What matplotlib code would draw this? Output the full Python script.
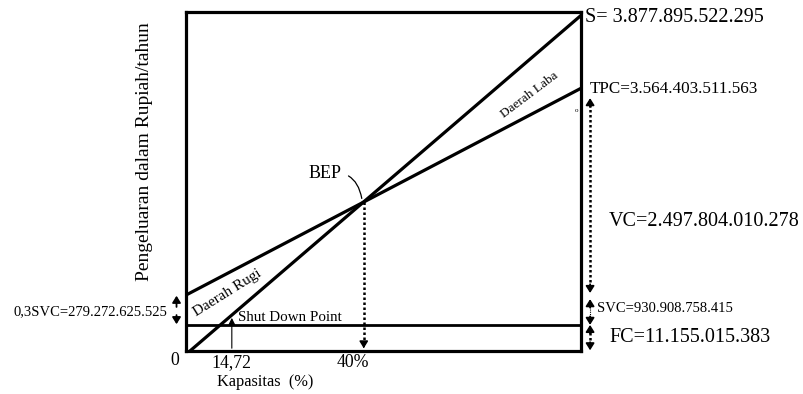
import matplotlib
matplotlib.use("Agg")
import matplotlib.pyplot as plt

plt.rcParams['font.family'] = ['Liberation Serif', 'DejaVu Serif']

# schematic values (capacity in %, cost axis in relative units 0-100)
capacity = [0, 100]
sales = [-1.0, 99.0]          # S line
tpc = [16.5, 77.5]            # total production cost line
fc_level = 7.7                # fixed cost level
bep_x = 45.0
bep_y = 44.0
sdp_x = 11.6                  # shut down point
sdp_y = 10.6

s_label = "S= 3.877.895.522.295"
tpc_label = "TPC=3.564.403.511.563"
vc_label = "VC=2.497.804.010.278"
svc_label = "SVC=930.908.758.415"
fc_label = "FC=11.155.015.383"
svc03_label = "0,3SVC=279.272.625.525"
x_ticks = [(0, "0"), (11.6, "14,72"), (42.3, "40%")]

fig = plt.figure(figsize=(8.04, 3.94), dpi=100)
ax = fig.add_axes([186 / 804, 43 / 394, 395 / 804, 339 / 394])
ax.set_xlim(0, 100)
ax.set_ylim(0, 100)
ax.set_xticks([])
ax.set_yticks([])
for sp in ax.spines.values():
    sp.set_linewidth(2.3)
    sp.set_color("black")

# main lines
ax.plot(capacity, sales, color="black", lw=2.3, solid_capstyle="butt")
ax.plot(capacity, tpc, color="black", lw=2.3, solid_capstyle="butt")
ax.plot(capacity, [fc_level, fc_level], color="black", lw=2.0)

# BEP dotted drop line
ax.plot([bep_x, bep_x], [bep_y, 2.0], color="black", lw=1.8, ls=(0, (1, 1)))
ax.annotate("", xy=(bep_x, 0), xytext=(bep_x, 2.5),
            arrowprops=dict(arrowstyle="-|>,head_length=0.4,head_width=0.25", color="black", lw=1.2))

# shut down point arrow
ax.annotate("", xy=(sdp_x, sdp_y), xytext=(sdp_x, 0),
            arrowprops=dict(arrowstyle="-|>,head_length=0.4,head_width=0.2", color="black", lw=0.8))

# BEP label with curved leader
ax.annotate("BEP", xy=(bep_x - 0.5, bep_y + 1), xytext=(35.3, 52.4),
            fontsize=13, ha="center", va="center",
            arrowprops=dict(arrowstyle="-", color="black", lw=0.9,
                            connectionstyle="arc3,rad=-0.5", shrinkA=3, shrinkB=0))

ax.text(10.4, 17.0, "Daerah Rugi", fontsize=11, rotation=32, ha="center", va="center")
ax.text(87.0, 75.5, "Daerah Laba", fontsize=9.5, rotation=37, ha="center", va="center")
ax.text(98.8, 70.8, "o", fontsize=5, ha="center", va="center")
ax.text(13.2, 10.0, "Shut Down Point", fontsize=10.8, ha="left", va="center")


def head(xy, xytext):
    ax.annotate("", xy=xy, xytext=xytext, annotation_clip=False,
                arrowprops=dict(arrowstyle="-|>,head_length=0.4,head_width=0.25",
                                color="black", lw=1.3, shrinkA=0, shrinkB=0))


# right side dotted dimension arrows
xr = 102.3
ax.plot([xr, xr], [19.0, 72.5], color="black", lw=1.8, ls=(0, (1, 1)), clip_on=False)
head((xr, 74.6), (xr, 72.0))
head((xr, 17.1), (xr, 19.7))
ax.plot([xr, xr], [9.5, 13.2], color="black", lw=0.8, ls=(0, (1, 1)), clip_on=False)
head((xr, 15.3), (xr, 12.8))
head((xr, fc_level), (xr, fc_level + 2.5))
head((xr, fc_level), (xr, fc_level - 2.5))
ax.plot([xr, xr], [1.8, 5.5], color="black", lw=1.8, ls=(0, (1, 1)), clip_on=False)
head((xr, 0.2), (xr, 2.6))

# left side double arrow
xl = -2.4
head((xl, 16.3), (xl, 13.0))
head((xl, 7.9), (xl, 10.6))

ax.text(101.0, 98.5, s_label, fontsize=14.5, ha="left", va="center", clip_on=False)
ax.text(102.3, 77.3, tpc_label, fontsize=12.3, ha="left", va="center")
ax.text(107.1, 38.3, vc_label, fontsize=14.5, ha="left", va="center")
ax.text(104.1, 12.4, svc_label, fontsize=10.5, ha="left", va="center")
ax.text(107.1, 4.1, fc_label, fontsize=14.5, ha="left", va="center")
ax.text(-4.6, 11.5, svc03_label, fontsize=10.5, ha="right", va="center")

for xv, lab in x_ticks:
    yv = -2.9 if lab == "0" else -3.4
    xx = -2.8 if lab == "0" else xv
    ax.text(xx, yv, lab, fontsize=12.8, ha="center", va="center")

ax.text(20.1, -9.0, "Kapasitas  (%)", fontsize=11.8, ha="center", va="center")
ax.text(-10.6, 58.7, "Pengeluaran dalam Rupiah/tahun", fontsize=14, rotation=90,
        ha="center", va="center")

fig.savefig("out.png", dpi=100)
